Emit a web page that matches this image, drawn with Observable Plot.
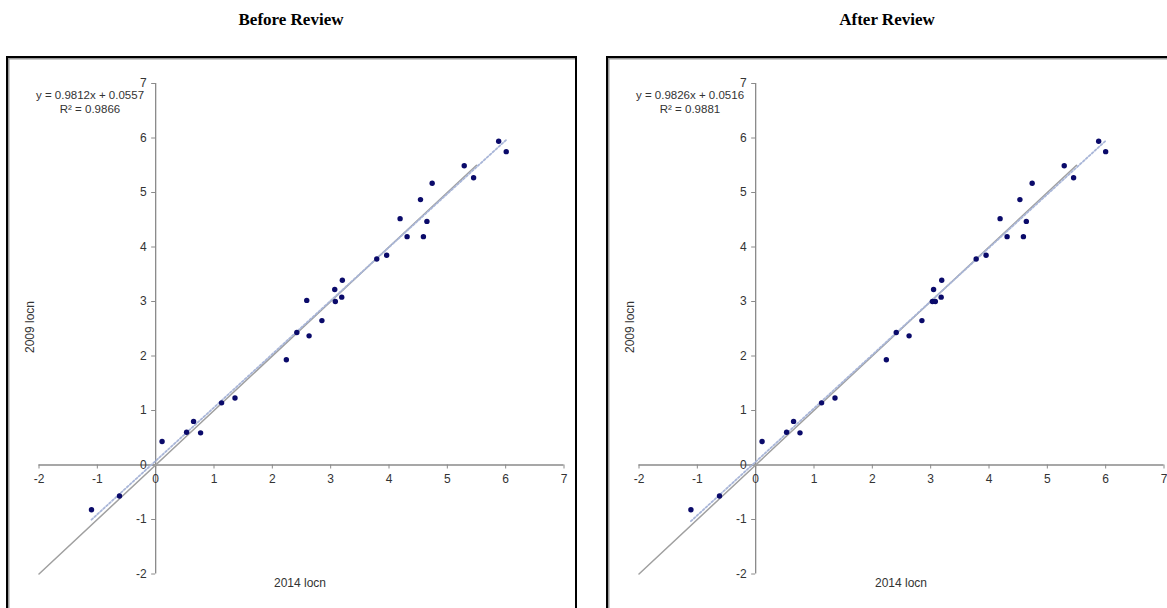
<!DOCTYPE html>
<html>
<head>
<meta charset="utf-8">
<script src="https://cdn.jsdelivr.net/npm/d3@7"></script>
<script src="https://cdn.jsdelivr.net/npm/@observablehq/plot@0.6"></script>
<style>
  html, body { margin: 0; padding: 0; background: #fff; }
  #page { position: relative; width: 1167px; height: 608px; overflow: hidden; background: #fff; font-family: "Liberation Sans", Arial, sans-serif; }
  .title { position: absolute; top: 9px; width: 300px; text-align: center; font-family: "Liberation Serif", "Times New Roman", serif; font-weight: bold; font-size: 17px; line-height: 22px; color: #000; }
  .frame { position: absolute; top: 56px; height: 700px; border: 2.5px solid #000; box-shadow: inset 1.5px 1.5px 0 #999; box-sizing: border-box; }
  .plotbox { position: absolute; top: 0; }
  .eq { position: absolute; width: 140px; text-align: center; font-size: 11.5px; line-height: 13.5px; color: #333; }
  .ylab { position: absolute; font-size: 12px; color: #333; transform: translate(-50%, -50%) rotate(-90deg); white-space: nowrap; }
  .xlab { position: absolute; font-size: 12px; color: #333; transform: translate(-50%, -50%); white-space: nowrap; }
</style>
</head>
<body>
<div id="page"></div>
<script>
// ---- data ----
const panelTitles = ["Before Review", "After Review"];
const xTitle = "2014 locn";
const yTitle = "2009 locn";
const equations = ["y = 0.9812x + 0.0557", "y = 0.9826x + 0.0516"];
const rSquared = ["R\u00b2 = 0.9866", "R\u00b2 = 0.9881"];
const xTicks = [-2, -1, 0, 1, 2, 3, 4, 5, 6, 7];
const yTicks = [-2, -1, 0, 1, 2, 3, 4, 5, 6, 7];
const oneToOne = [-2, 5.5];

const beforeX = [-1.10, -0.62, 0.11, 0.53, 0.65, 0.77, 1.13, 1.36, 2.24, 2.42, 2.63, 2.59, 2.85, 3.07, 3.08, 3.19, 3.20, 3.79, 3.96, 4.31, 4.59, 4.19, 4.65, 4.54, 4.74, 5.29, 5.45, 5.88, 6.01];
const beforeY = [-0.82, -0.57, 0.43, 0.60, 0.80, 0.59, 1.14, 1.23, 1.93, 2.43, 2.37, 3.02, 2.65, 3.22, 3.00, 3.08, 3.39, 3.78, 3.85, 4.19, 4.19, 4.52, 4.47, 4.87, 5.17, 5.49, 5.27, 5.94, 5.75];
const afterX  = [-1.11, -0.62, 0.11, 0.53, 0.65, 0.76, 1.13, 1.36, 2.24, 2.41, 2.63, 3.03, 2.85, 3.05, 3.08, 3.18, 3.19, 3.78, 3.95, 4.31, 4.59, 4.19, 4.64, 4.53, 4.74, 5.29, 5.45, 5.88, 6.00];
const afterY  = [-0.82, -0.57, 0.43, 0.60, 0.80, 0.59, 1.14, 1.23, 1.93, 2.43, 2.37, 3.00, 2.65, 3.22, 3.00, 3.08, 3.39, 3.78, 3.85, 4.19, 4.19, 4.52, 4.47, 4.87, 5.17, 5.49, 5.27, 5.94, 5.75];

const panels = [
  {xs: beforeX, ys: beforeY, left: 0, width: 580, frameLeft: 6, frameWidth: 571, titleCenter: 291, eqCenter: 90, ylabX: 30, xlabX: 300},
  {xs: afterX, ys: afterY, left: 600, width: 567, frameLeft: 606, frameWidth: 700, titleCenter: 887, eqCenter: 690, ylabX: 630, xlabX: 901}
];

const page = document.getElementById("page");
const axisColor = "#8a8a8a";
const textColor = "#333";

function makePlot(xs, ys, width) {
  const pts = xs.map((x, i) => ({x, y: ys[i]}));
  return Plot.plot({
    width: width,
    height: 608,
    marginLeft: 38.5,
    marginRight: width - 563.5,
    marginTop: 83,
    marginBottom: 608 - 573.5,
    x: {domain: [-2, 7], axis: null},
    y: {domain: [-2, 7], axis: null},
    style: {background: "transparent", overflow: "visible", fontFamily: "'Liberation Sans', Arial, sans-serif"},
    marks: [
      Plot.ruleY([0], {stroke: axisColor, strokeWidth: 1.3}),
      Plot.ruleX([0], {stroke: axisColor, strokeWidth: 1.3}),
      Plot.ruleX(xTicks, {x: d => d, y1: 0, y2: 0, insetBottom: -4, stroke: axisColor}),
      Plot.ruleY(yTicks, {y: d => d, x1: 0, x2: 0, insetLeft: -4, stroke: axisColor}),
      Plot.text(xTicks, {x: d => d, y: 0, dy: 14, text: d => String(d), fontSize: 12, fill: textColor}),
      Plot.text(yTicks, {x: 0, y: d => d, dx: -9, textAnchor: "end", text: d => String(d), fontSize: 12, fill: textColor}),
      Plot.line(oneToOne, {x: d => d, y: d => d, stroke: "#a0a0a0", strokeWidth: 1.5}),
      Plot.linearRegressionY(pts, {x: "x", y: "y", ci: 0, stroke: "#a9b6d8", strokeWidth: 1.8, strokeDasharray: "2,2"}),
      Plot.dot(pts, {x: "x", y: "y", r: 2.7, fill: "#0a0a6a", stroke: "none"})
    ]
  });
}

panels.forEach((p, k) => {
  const frame = document.createElement("div");
  frame.className = "frame";
  frame.style.left = p.frameLeft + "px";
  frame.style.width = p.frameWidth + "px";
  page.appendChild(frame);

  const title = document.createElement("div");
  title.className = "title";
  title.style.left = (p.titleCenter - 150) + "px";
  title.textContent = panelTitles[k];
  page.appendChild(title);

  const box = document.createElement("div");
  box.className = "plotbox";
  box.style.left = p.left + "px";
  box.appendChild(makePlot(p.xs, p.ys, p.width));
  page.appendChild(box);

  const eq = document.createElement("div");
  eq.className = "eq";
  eq.style.left = (p.eqCenter - 70) + "px";
  eq.style.top = "89px";
  eq.innerHTML = equations[k] + "<br>" + rSquared[k];
  page.appendChild(eq);

  const yl = document.createElement("div");
  yl.className = "ylab";
  yl.style.left = p.ylabX + "px";
  yl.style.top = "327px";
  yl.textContent = yTitle;
  page.appendChild(yl);

  const xl = document.createElement("div");
  xl.className = "xlab";
  xl.style.left = p.xlabX + "px";
  xl.style.top = "583px";
  xl.textContent = xTitle;
  page.appendChild(xl);
});
</script>
</body>
</html>
